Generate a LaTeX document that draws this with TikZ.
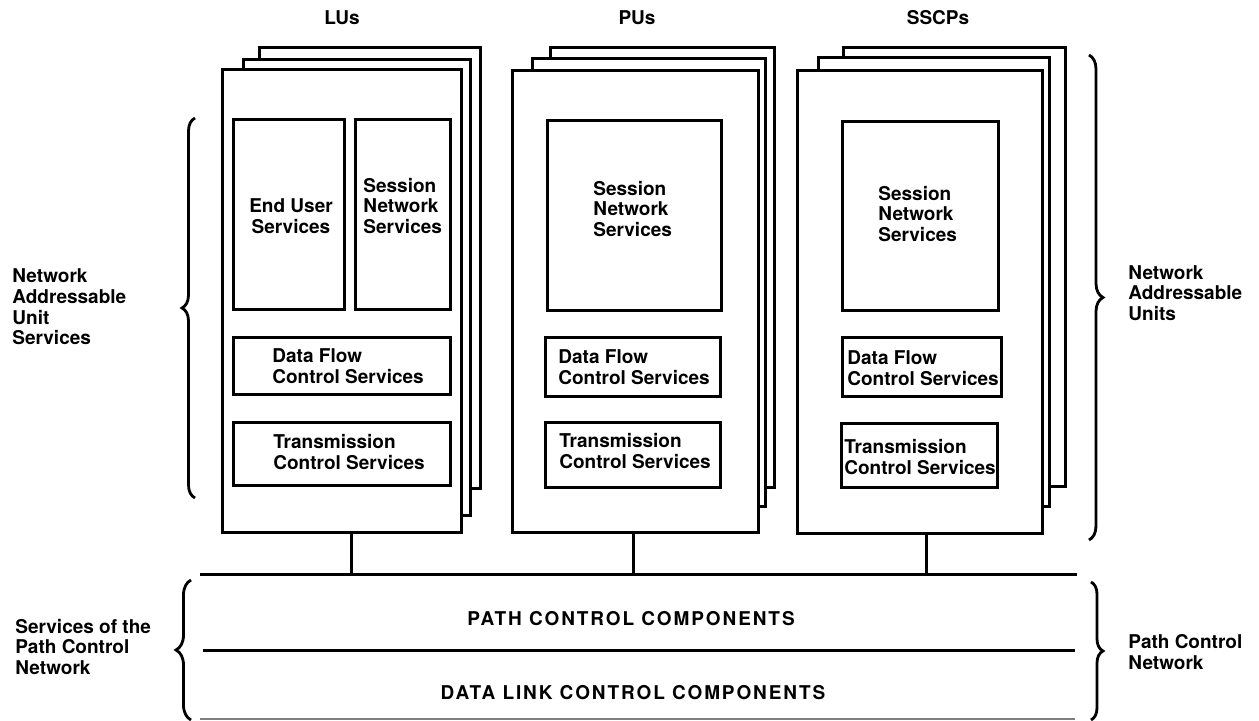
\documentclass[tikz,border=0pt]{standalone}
\usepackage{fontspec}
\setmainfont{TeX Gyre Heros}
\usetikzlibrary{fit,decorations.pathreplacing}
\begin{document}
\begin{tikzpicture}[x=0.5pt,y=-0.5pt,
  unitbox/.style={draw, line width=1.5pt, fill=white, inner sep=0pt},
  subbox/.style={draw, line width=1.5pt, inner sep=0pt},
  lbl/.style={inner sep=0pt, align=left, font=\fontsize{9.5}{10.3}\selectfont\bfseries},
  clbl/.style={inner sep=0pt, align=center, font=\fontsize{9.5}{10.3}\selectfont\bfseries},
  caps/.style={inner sep=0pt, font=\fontsize{9.5}{10.3}\selectfont\bfseries\addfontfeature{LetterSpace=10}},
  bus/.style={line width=1.5pt},
  cbrace/.style={decorate, line width=1.4pt, decoration={brace, amplitude=#1}}
]
\useasboundingbox (0,0) rectangle (1259,721);

% ---------- LU stack ----------
\node[unitbox, fit={(259,48)(480,489)}] (lu3) {};
\node[unitbox, fit={(243,60)(470,516)}] (lu2) {};
\node[unitbox, fit={(222,70)(461,533)}] (lu1) {};
\node[subbox, fit={(233,120)(344,310)}] (lueus) {};
\node[subbox, fit={(355,120)(450,310)}] (lusns) {};
\node[subbox, fit={(233,338)(450,395)}] (ludf) {};
\node[subbox, fit={(233,423)(450,486)}] (lutc) {};
\node[clbl] (lueust) at (291,216) {End User\\Services};
\node[lbl, anchor=west] (lusnst) at (363,206) {Session\\Network\\Services};
\node[lbl, anchor=west] (ludft) at (272,366) {Data Flow\\Control Services};
\node[lbl, anchor=west] (lutct) at (273,452) {Transmission\\Control Services};

% ---------- PU stack ----------
\node[unitbox, fit={(550,48)(774,488)}] (pu3) {};
\node[unitbox, fit={(532,59)(765,507)}] (pu2) {};
\node[unitbox, fit={(512,71)(758,533)}] (pu1) {};
\node[subbox, fit={(547,121)(721,311)}] (pusns) {};
\node[subbox, fit={(545,338)(720,397)}] (pudf) {};
\node[subbox, fit={(545,423)(720,488)}] (putc) {};
\node[lbl, anchor=west] (pusnst) at (593,209) {Session\\Network\\Services};
\node[lbl, anchor=west] (pudft) at (558,367) {Data Flow\\Control Services};
\node[lbl, anchor=west] (putct) at (559,451) {Transmission\\Control Services};

% ---------- SSCP stack ----------
\node[unitbox, fit={(843,48)(1065,487)}] (ss3) {};
\node[unitbox, fit={(818,58)(1049,507)}] (ss2) {};
\node[unitbox, fit={(797,71)(1042,534)}] (ss1) {};
\node[subbox, fit={(842,122)(998,311)}] (sssns) {};
\node[subbox, fit={(842,338)(1001,397)}] (ssdf) {};
\node[subbox, fit={(841,424)(997,488)}] (sstc) {};
\node[lbl, anchor=west] (sssnst) at (878,214) {Session\\Network\\Services};
\node[lbl, anchor=west] (ssdft) at (847,368) {Data Flow\\Control Services};
\node[lbl, anchor=west] (sstct) at (844,457) {Transmission\\Control Services};

% ---------- headers ----------
\node[clbl, anchor=base] (hlu) at (342,25) {LUs};
\node[clbl, anchor=base] (hpu) at (637,25) {PUs};
\node[clbl, anchor=base] (hss) at (938,25) {SSCPs};

% ---------- path control network ----------
\coordinate (b1w) at (200,575);
\coordinate (b1e) at (1077,575);
\coordinate (b2w) at (203,650);
\coordinate (b2e) at (1075,650);
\coordinate (b3w) at (200,719);
\coordinate (b3e) at (1075,719);
\draw[bus] (b1w) -- (b1e);
\draw[bus] (b2w) -- (b2e);
\draw[line width=0.6pt, gray] (b3w) -- (b3e);
\coordinate (clu) at (351,575);
\coordinate (cpu) at (633,575);
\coordinate (css) at (926,575);
\draw[bus] (clu |- lu1.south) -- (clu);
\draw[bus] (cpu |- pu1.south) -- (cpu);
\draw[bus] (css |- ss1.south) -- (css);
\node[caps, anchor=base] (pcc) at (631,625) {PATH CONTROL COMPONENTS};
\node[caps, anchor=base] (dlc) at (633,699) {DATA LINK CONTROL COMPONENTS};

% ---------- braces and side labels ----------
\coordinate (lbt) at (195,118);
\coordinate (lbb) at (195,498);
\draw[cbrace=6.5pt] (lbb) -- (lbt);
\node[lbl, anchor=west] (nauS) at (12,307) {Network\\Addressable\\Unit\\Services};

\coordinate (rbt) at (1089,55);
\coordinate (rbb) at (1089,540);
\draw[cbrace=7pt] (rbt) -- (rbb);
\node[lbl, anchor=west] (nau) at (1128,293) {Network\\Addressable\\Units};

\coordinate (plbt) at (191,580);
\coordinate (plbb) at (191,720);
\draw[cbrace=7.5pt] (plbb) -- (plbt);
\node[lbl, anchor=west] (spcn) at (15,647) {Services of the\\Path Control\\Network};

\coordinate (prbt) at (1091,582);
\coordinate (prbb) at (1091,720);
\draw[cbrace=6pt] (prbt) -- (prbb);
\node[lbl, anchor=west] (pcn) at (1128,652) {Path Control\\Network};
\end{tikzpicture}
\end{document}
